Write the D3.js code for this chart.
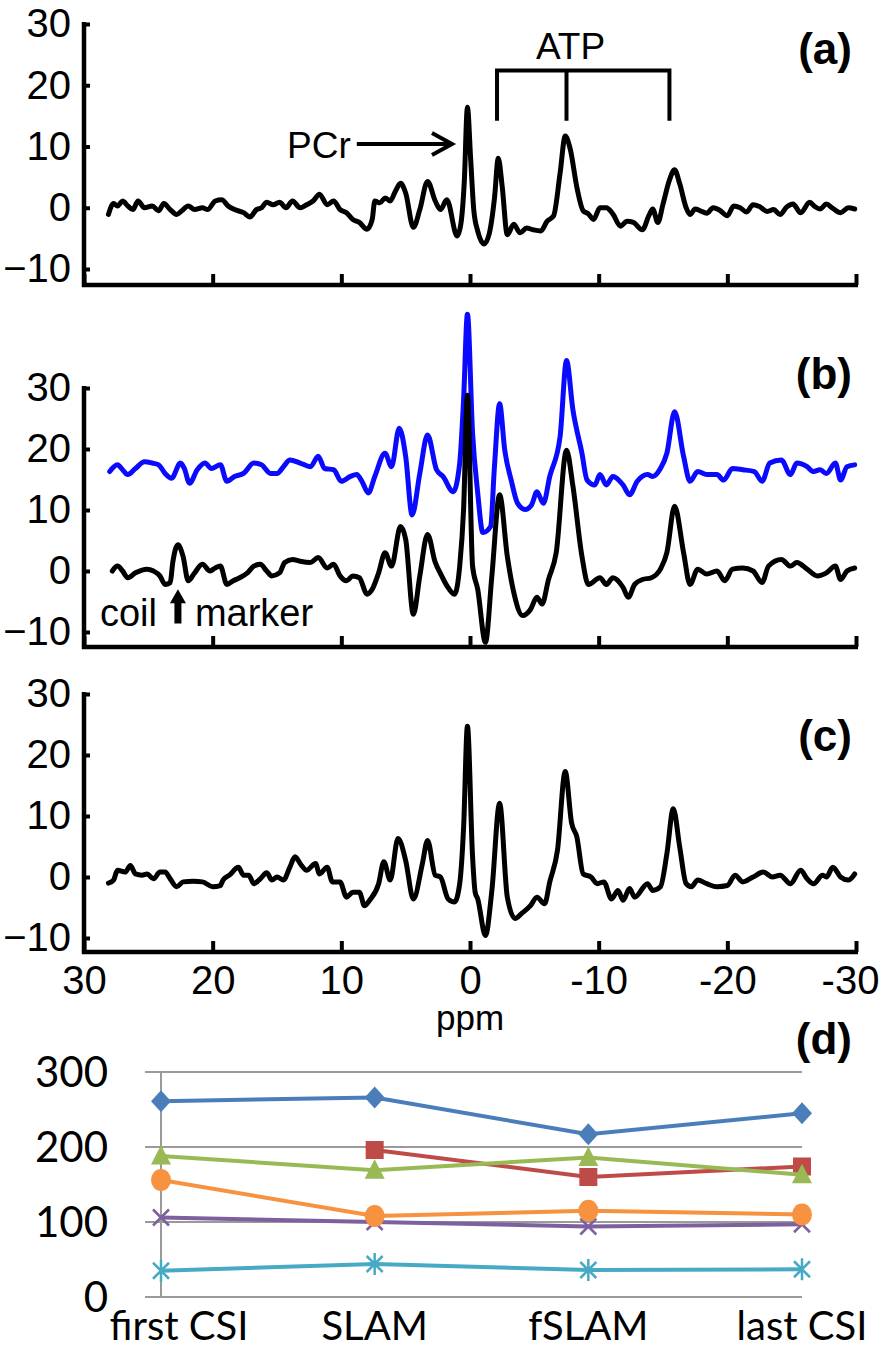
<!DOCTYPE html>
<html><head><meta charset="utf-8">
<script src="https://cdn.jsdelivr.net/npm/d3@7"></script>
<style>
html,body{margin:0;padding:0;background:#fff;}
svg{display:block;}
</style></head><body>
<svg id="chart" width="881" height="1354"></svg>
<script>
// ---------------- DATA ----------------
const ppmTicks = [30, 20, 10, 0, -10, -20, -30];
const intensityTicks = [-10, 0, 10, 20, 30];

// spectrum (a) : [ppm, intensity]
const spectrumA = [[28.1,-1.1],[27.7,0.7],[27.4,0.3],[27.0,1.1],[26.6,0.3],[26.2,-0.3],[25.8,1.1],[25.3,0.0],[24.7,0.3],[24.2,-0.5],[23.8,0.7],[23.3,-0.3],[22.8,-1.1],[22.4,-0.5],[21.9,0.3],[21.4,-0.3],[20.8,0.0],[20.4,-0.3],[19.8,1.1],[19.3,1.3],[18.8,0.3],[18.3,-0.3],[17.6,-0.8],[17.1,-1.5],[16.6,-0.3],[16.2,0.0],[15.8,0.9],[15.3,0.5],[14.8,0.9],[14.3,0.0],[13.8,1.1],[13.2,0.0],[12.7,0.5],[12.2,1.1],[11.7,2.2],[11.1,0.5],[10.6,1.1],[10.1,-0.3],[9.6,-0.8],[9.1,-1.9],[8.6,-2.4],[8.0,-3.5],[7.6,-1.9],[7.4,1.1],[7.0,0.8],[6.6,1.6],[6.2,1.1],[5.8,2.7],[5.4,4.0],[5.0,2.4],[4.4,-3.2],[3.9,-0.3],[3.3,4.3],[2.7,1.1],[2.3,-0.3],[1.8,1.3],[1.0,-4.6],[0.7,-2.5],[0.45,4.0],[0.2,16.4],[-0.05,8.0],[-0.3,-0.5],[-0.6,-3.8],[-1.1,-5.9],[-1.5,-4.2],[-1.9,1.5],[-2.2,8.1],[-2.5,3.5],[-2.9,-4.4],[-3.4,-2.7],[-3.9,-4.1],[-4.4,-3.3],[-4.9,-3.6],[-5.5,-3.8],[-6.0,-2.2],[-6.5,-1.3],[-7.0,5.6],[-7.4,11.7],[-7.8,9.5],[-8.3,3.4],[-8.8,-0.5],[-9.2,-1.0],[-9.6,-1.9],[-10.1,0.0],[-10.6,0.0],[-11.1,-1.0],[-11.7,-3.0],[-12.2,-2.2],[-12.7,-2.4],[-13.4,-3.6],[-13.9,-1.3],[-14.2,-0.2],[-14.6,-2.4],[-15.0,0.6],[-15.5,4.5],[-15.9,6.2],[-16.3,3.9],[-16.8,0.0],[-17.1,-1.1],[-17.5,-0.2],[-17.9,-0.5],[-18.4,-0.9],[-18.9,0.0],[-19.4,-0.4],[-20.0,-1.3],[-20.5,0.3],[-21.0,0.0],[-21.5,-0.7],[-22.0,0.5],[-22.5,0.2],[-23.1,-0.6],[-23.6,-0.3],[-24.1,-1.1],[-24.6,0.1],[-25.1,0.6],[-25.7,-0.8],[-26.4,0.9],[-26.8,0.2],[-27.2,-0.2],[-27.7,0.6],[-28.2,-0.1],[-28.8,-0.8],[-29.4,0.0],[-29.9,-0.2]];

// spectrum (b), black trace
const spectrumBBlack = [[27.8,0.0],[27.4,0.8],[27.0,0.0],[26.6,-1.1],[26.0,-0.3],[25.1,0.3],[24.6,0.0],[24.1,-0.8],[23.7,-2.2],[23.3,-1.9],[23.1,1.4],[22.7,4.3],[22.3,2.4],[21.9,-1.6],[21.4,-0.3],[20.8,1.1],[20.2,0.0],[19.8,0.5],[19.4,0.8],[18.9,-2.2],[18.4,-1.6],[17.9,-1.1],[17.3,-0.3],[16.8,0.8],[16.3,1.1],[15.8,0.0],[15.4,-0.8],[14.8,-0.3],[14.4,1.4],[13.8,1.9],[13.2,1.6],[12.4,1.4],[11.8,2.2],[11.1,0.5],[10.6,1.1],[10.1,-0.8],[9.6,-1.6],[9.1,-0.8],[8.6,-1.1],[8.0,-3.8],[7.6,-3.0],[7.1,-0.3],[6.6,3.0],[6.1,0.8],[5.4,7.3],[5.0,5.2],[4.4,-7.1],[3.9,-0.8],[3.3,6.0],[2.7,1.4],[2.2,-0.8],[1.8,-2.4],[1.2,-3.8],[0.8,0.8],[0.5,10.0],[0.2,28.8],[-0.2,0.8],[-0.6,-3.0],[-1.2,-11.7],[-1.7,-0.8],[-2.3,12.5],[-2.9,2.4],[-3.4,-3.5],[-4.1,-7.3],[-4.7,-6.3],[-5.2,-4.3],[-5.6,-5.4],[-6.1,-1.4],[-6.7,3.0],[-7.5,19.8],[-8.0,13.9],[-8.7,2.4],[-9.2,-2.2],[-10.1,-1.1],[-10.6,-2.2],[-11.1,-1.1],[-11.9,-2.7],[-12.3,-4.3],[-12.8,-2.2],[-13.4,-1.4],[-14.1,-1.1],[-14.8,0.3],[-15.3,3.0],[-15.9,10.6],[-16.6,3.0],[-17.1,-2.2],[-17.7,0.3],[-18.4,-0.5],[-19.2,0.0],[-19.8,-1.6],[-20.4,0.3],[-21.2,0.5],[-22.0,0.0],[-22.7,-1.9],[-23.2,0.8],[-24.2,1.9],[-24.9,0.8],[-25.4,1.4],[-26.2,0.3],[-27.0,-0.8],[-27.7,-0.3],[-28.4,0.8],[-28.8,-1.4],[-29.3,0.0],[-29.9,0.5]];

// spectrum (b), blue trace
const spectrumBBlue = [[28.0,16.3],[27.4,17.4],[27.0,16.6],[26.6,15.8],[26.0,16.8],[25.3,17.9],[24.7,17.7],[24.2,17.4],[23.7,16.0],[23.2,15.2],[22.5,17.7],[22.2,16.8],[21.8,14.4],[21.2,16.6],[20.6,17.7],[20.1,16.8],[19.4,17.4],[18.9,14.7],[18.3,15.5],[17.6,16.0],[16.8,17.7],[16.2,17.4],[15.5,16.0],[15.0,16.0],[14.5,17.1],[14.0,18.2],[13.2,17.7],[12.4,17.1],[11.8,18.8],[11.3,16.8],[10.6,16.6],[10.0,14.7],[9.3,15.5],[8.8,15.8],[8.4,14.7],[7.9,12.8],[7.4,15.5],[6.6,19.3],[6.1,17.1],[5.5,23.4],[5.0,18.8],[4.5,9.2],[3.9,16.0],[3.3,22.3],[2.6,16.6],[2.1,15.5],[1.3,13.0],[0.8,17.7],[0.5,28.0],[0.2,42.1],[-0.2,22.6],[-0.6,12.8],[-1.0,6.3],[-1.6,7.3],[-1.9,17.1],[-2.3,27.4],[-2.7,19.8],[-3.2,14.9],[-3.7,11.1],[-4.3,10.1],[-4.8,10.9],[-5.2,13.0],[-5.7,11.1],[-6.2,15.5],[-7.0,22.0],[-7.5,34.5],[-8.0,26.4],[-8.7,19.3],[-9.1,14.9],[-9.7,14.1],[-10.1,15.8],[-10.6,14.1],[-11.1,15.5],[-11.9,14.1],[-12.4,12.5],[-13.0,14.7],[-13.8,15.8],[-14.2,15.5],[-14.8,16.8],[-15.3,19.3],[-15.9,26.1],[-16.6,18.8],[-17.1,14.7],[-17.7,16.3],[-18.4,15.8],[-19.2,15.8],[-19.7,14.9],[-20.4,16.8],[-21.2,16.6],[-22.1,16.3],[-22.7,14.7],[-23.3,17.7],[-24.2,18.2],[-24.9,15.8],[-25.4,17.7],[-26.2,17.1],[-26.7,16.3],[-27.2,16.6],[-27.7,16.0],[-28.4,17.7],[-28.8,14.9],[-29.3,17.1],[-29.9,17.4]];

// spectrum (c)
const spectrumC = [[28.1,-1.0],[27.7,-0.5],[27.4,1.1],[26.8,0.8],[26.4,1.9],[26.0,0.5],[25.5,0.3],[25.1,0.5],[24.6,-0.3],[24.1,0.8],[23.7,0.8],[23.3,-0.3],[22.8,-1.6],[22.3,-0.8],[21.5,-0.7],[20.8,-0.8],[20.0,-1.6],[19.4,-1.4],[19.2,-0.5],[18.7,0.3],[18.0,1.6],[17.6,0.3],[17.2,0.3],[16.8,-1.1],[16.3,-0.3],[15.8,0.7],[15.4,-0.5],[15.0,0.0],[14.5,-0.5],[14.0,1.6],[13.6,3.3],[13.1,1.9],[12.7,1.1],[12.0,2.2],[11.7,0.5],[11.1,1.6],[10.7,-0.8],[10.1,-0.8],[9.6,-3.3],[9.1,-2.5],[8.6,-2.5],[8.2,-4.7],[7.8,-3.8],[7.1,-1.1],[6.7,2.5],[6.2,-0.5],[5.6,6.3],[5.0,2.7],[4.4,-3.6],[3.7,2.2],[3.3,6.0],[2.7,0.3],[2.3,0.0],[1.7,-3.6],[1.2,-4.1],[0.8,-1.1],[0.5,8.0],[0.2,24.7],[-0.2,3.3],[-0.4,-2.5],[-0.6,-3.6],[-1.2,-9.6],[-1.7,-2.2],[-2.3,12.1],[-2.9,-3.3],[-3.5,-6.8],[-4.0,-6.0],[-4.7,-4.7],[-5.2,-3.3],[-5.8,-4.4],[-6.2,-0.8],[-6.8,4.4],[-7.4,17.3],[-7.9,8.8],[-8.3,6.6],[-8.8,0.5],[-9.4,0.0],[-9.9,-1.1],[-10.4,-0.8],[-11.0,-3.6],[-11.5,-2.2],[-11.9,-3.8],[-12.4,-1.9],[-12.8,-3.3],[-13.8,-1.1],[-14.2,-2.2],[-14.8,-1.6],[-15.3,3.8],[-15.8,11.2],[-16.3,4.9],[-16.8,-1.1],[-17.2,-1.6],[-17.7,-0.5],[-18.4,-1.1],[-19.2,-1.6],[-20.0,-1.4],[-20.6,0.3],[-21.2,-0.8],[-22.0,0.0],[-22.8,0.8],[-23.5,0.0],[-24.1,0.3],[-24.9,-1.1],[-25.7,1.1],[-26.2,-0.3],[-26.7,-1.1],[-27.4,0.3],[-27.7,0.0],[-28.2,1.6],[-28.8,0.0],[-29.4,-0.5],[-29.9,0.5]];

// annotation anchors (data units: ppm / intensity)
const atpPpm = [-2.1, -7.5, -15.5];
const pcrArrowPpm = [8.8, 1.4];

// panel (d)
const categories = ["first CSI", "SLAM", "fSLAM", "last CSI"];
const dTicks = [0, 100, 200, 300];
const seriesBlueDiamond   = [261, 266, 217, 245];
const seriesRedSquare     = [null, 196, 160, 174];
const seriesGreenTriangle = [188, 169, 186, 163];
const seriesPurpleX       = [106, 100, 94, 97];
const seriesTealStar      = [35, 44, 36, 37];
const seriesOrangeCircle  = [156, 108, 115, 110];

// ---------------- DRAW ----------------
const svg = d3.select("#chart");
const FONT = "'Liberation Sans', Arial, sans-serif";
const x = d3.scaleLinear().domain([30, -30]).range([84, 856]);

const panels = [
  {id: "a", top: 24, bot10: 269, axisY: 285, label: "(a)", labelY: 64},
  {id: "b", top: 388, bot10: 632, axisY: 647, label: "(b)", labelY: 389},
  {id: "c", top: 694, bot10: 938, axisY: 952, label: "(c)", labelY: 751}
];
panels.forEach(p => { p.y = d3.scaleLinear().domain([-10, 30]).range([p.bot10, p.top]); });

function drawAxes(p, showX) {
  const g = svg.append("g");
  const ya = g.append("g").attr("transform", `translate(${x(30)},0)`)
    .call(d3.axisLeft(p.y).tickValues(intensityTicks).tickSizeInner(-6).tickSizeOuter(0).tickPadding(13));
  ya.select(".domain").remove();
  ya.selectAll("line").attr("stroke", "#000").attr("stroke-width", 4);
  ya.selectAll("text").attr("font-family", FONT).attr("font-size", 40).attr("fill", "#000");
  g.append("line").attr("x1", x(30)).attr("x2", x(30)).attr("y1", p.y(30) - 2).attr("y2", p.axisY + 2)
    .attr("stroke", "#000").attr("stroke-width", 4.5);
  const xa = g.append("g").attr("transform", `translate(0,${p.axisY})`)
    .call(d3.axisBottom(x).tickValues(ppmTicks).tickSizeInner(-11).tickSizeOuter(0).tickPadding(14).tickFormat(d => d));
  xa.select(".domain").remove();
  xa.selectAll("line").attr("stroke", "#000").attr("stroke-width", 4);
  if (showX) {
    xa.selectAll("text").attr("font-family", FONT).attr("font-size", 40).attr("fill", "#000")
      .attr("dx", d => d === -30 ? -6 : 0);
  } else xa.selectAll("text").remove();
  g.append("line").attr("x1", x(30) - 2).attr("x2", x(-30) + 2).attr("y1", p.axisY).attr("y2", p.axisY)
    .attr("stroke", "#000").attr("stroke-width", 4.5);
  svg.append("text").attr("x", 852).attr("y", p.labelY).attr("text-anchor", "end")
    .attr("font-family", FONT).attr("font-weight", "bold").attr("font-size", 44).text(p.label);
}

function drawTrace(p, data, color) {
  const line = d3.line().curve(d3.curveMonotoneX).x(d => x(d[0])).y(d => p.y(d[1]));
  svg.append("path").datum(data).attr("d", line).attr("fill", "none")
    .attr("stroke", color).attr("stroke-width", 5).attr("stroke-linejoin", "round").attr("stroke-linecap", "round");
}

drawAxes(panels[0], false);
drawTrace(panels[0], spectrumA, "#000");
drawAxes(panels[1], false);
drawTrace(panels[1], spectrumBBlue, "#0a0aff");
drawTrace(panels[1], spectrumBBlack, "#000");
drawAxes(panels[2], true);
drawTrace(panels[2], spectrumC, "#000");

// ppm label
svg.append("text").attr("x", x(0)).attr("y", 1030).attr("text-anchor", "middle")
  .attr("font-family", FONT).attr("font-size", 35).text("ppm");

// annotations panel a
(function() {
  const p = panels[0];
  const yB = p.y(22.4), yT = p.y(14.2);
  svg.append("path")
    .attr("d", `M${x(atpPpm[0])},${yT} V${yB} H${x(atpPpm[2])} V${yT} M${x(atpPpm[1])},${yB} V${yT}`)
    .attr("fill", "none").attr("stroke", "#000").attr("stroke-width", 4);
  svg.append("text").attr("x", x(atpPpm[1]) + 4).attr("y", p.y(24.3)).attr("text-anchor", "middle")
    .attr("font-family", FONT).attr("font-size", 37).text("ATP");
  const ya = p.y(10.4);
  svg.append("text").attr("x", x(pcrArrowPpm[0]) - 6).attr("y", p.y(8.2)).attr("text-anchor", "end")
    .attr("font-family", FONT).attr("font-size", 37).text("PCr");
  const x1 = x(pcrArrowPpm[0]), x2 = x(pcrArrowPpm[1]);
  svg.append("path").attr("d", `M${x1},${ya} H${x2 - 1} M${x2 - 20},${ya - 11} L${x2},${ya} L${x2 - 20},${ya + 11}`)
    .attr("fill", "none").attr("stroke", "#000").attr("stroke-width", 4).attr("stroke-linejoin", "miter");
})();

// coil marker annotation panel b
(function() {
  const p = panels[1];
  const ax = x(22.7), yTop = p.y(-3.0), yBot = p.y(-8.6);
  svg.append("path").attr("d",
    `M${ax},${yTop} L${ax + 8},${yTop + 14} L${ax + 3.5},${yTop + 14} L${ax + 3.5},${yBot} L${ax - 3.5},${yBot} L${ax - 3.5},${yTop + 14} L${ax - 8},${yTop + 14} Z`)
    .attr("fill", "#000");
  svg.append("text").attr("x", x(22.7) - 78).attr("y", p.y(-9.0)).attr("font-family", FONT).attr("font-size", 38).text("coil");
  svg.append("text").attr("x", x(22.7) + 17).attr("y", p.y(-9.0)).attr("font-family", FONT).attr("font-size", 38).text("marker");
})();

svg.append("text").attr("x", 852).attr("y", 1054).attr("text-anchor", "end")
  .attr("font-family", FONT).attr("font-weight", "bold").attr("font-size", 44).text("(d)");

// ---------------- PANEL D ----------------
const yD = d3.scaleLinear().domain([0, 300]).range([1297, 1072]);
const xD = d3.scalePoint().domain(categories).range([161, 802]);
const DFONT = "Lato, 'Open Sans', sans-serif";
const gD = svg.append("g");
gD.selectAll(".grid").data(dTicks).join("line")
  .attr("x1", 145).attr("x2", 802).attr("y1", d => yD(d)).attr("y2", d => yD(d))
  .attr("stroke", "#9a9a9a").attr("stroke-width", 2);
gD.append("line").attr("x1", xD(categories[0])).attr("x2", xD(categories[0]))
  .attr("y1", yD(300)).attr("y2", yD(0)).attr("stroke", "#9a9a9a").attr("stroke-width", 2);
gD.selectAll(".yl").data(dTicks).join("text")
  .attr("x", 108).attr("y", d => yD(d)).attr("dy", "0.36em").attr("text-anchor", "end")
  .attr("font-family", DFONT).attr("font-size", 42).text(d => d);
gD.selectAll(".xl").data(categories).join("text")
  .attr("x", d => xD(d)).attr("dx", (d, i) => i === 0 ? 18 : 0).attr("y", 1340).attr("text-anchor", "middle")
  .attr("font-family", DFONT).attr("font-size", 40).text(d => d);

const dSeries = [
  {vals: seriesBlueDiamond, color: "#4a7ebb", marker: "diamond"},
  {vals: seriesRedSquare, color: "#be4b48", marker: "square"},
  {vals: seriesGreenTriangle, color: "#98b954", marker: "triangle"},
  {vals: seriesPurpleX, color: "#7d60a0", marker: "x"},
  {vals: seriesTealStar, color: "#46aac5", marker: "star"},
  {vals: seriesOrangeCircle, color: "#f69240", marker: "circle"}
];
const lineD = d3.line().defined(d => d.v != null).x(d => xD(d.c)).y(d => yD(d.v));
dSeries.forEach(s => {
  const pts = categories.map((c, i) => ({c, v: s.vals[i]}));
  gD.append("path").datum(pts).attr("d", lineD).attr("fill", "none")
    .attr("stroke", s.color).attr("stroke-width", 4).attr("stroke-linejoin", "round");
  pts.filter(d => d.v != null).forEach(d => {
    const cx = xD(d.c), cy = yD(d.v);
    const m = gD.append("g").attr("transform", `translate(${cx},${cy})`);
    if (s.marker === "diamond") m.append("path").attr("d", "M0,-11 L10,0 L0,11 L-10,0 Z").attr("fill", s.color);
    else if (s.marker === "square") m.append("rect").attr("x", -9).attr("y", -9).attr("width", 18).attr("height", 18).attr("fill", s.color);
    else if (s.marker === "triangle") m.append("path").attr("d", "M0,-11 L10,8.5 L-10,8.5 Z").attr("fill", s.color);
    else if (s.marker === "circle") m.append("ellipse").attr("rx", 10).attr("ry", 11).attr("fill", s.color);
    else if (s.marker === "x") m.append("path").attr("d", "M-8,-8 L8,8 M-8,8 L8,-8").attr("stroke", s.color).attr("stroke-width", 2.5);
    else if (s.marker === "star") m.append("path").attr("d", "M-8,-8 L8,8 M-8,8 L8,-8 M0,-11 L0,11").attr("stroke", s.color).attr("stroke-width", 2.5);
  });
});
</script>
</body></html>
